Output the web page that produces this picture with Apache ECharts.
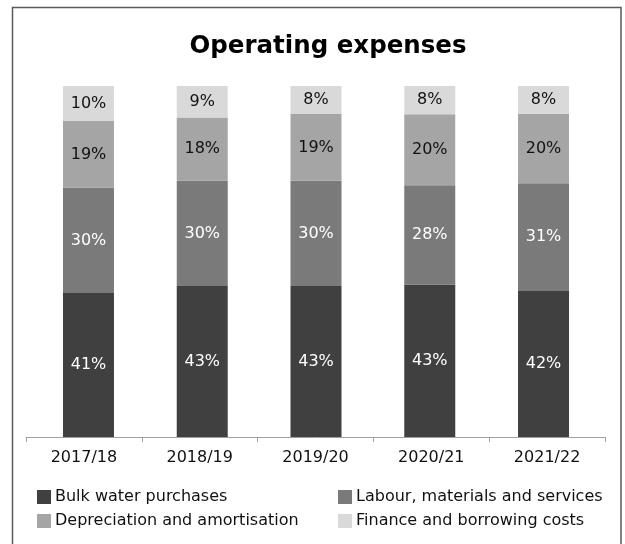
<!DOCTYPE html>
<html>
<head>
<meta charset="utf-8">
<script src="https://cdn.jsdelivr.net/npm/echarts@6/dist/echarts.min.js"></script>
<style>
  html, body { margin: 0; padding: 0; background: #fff; }
  #main { width: 625px; height: 544px; }
</style>
</head>
<body>
<div id="main"></div>
<script>
var years = ['2017/18', '2018/19', '2019/20', '2020/21', '2021/22'];
var bulkWater = [41, 43, 43, 43, 42];
var labour = [30, 30, 30, 28, 31];
var depreciation = [19, 18, 19, 20, 20];
var finance = [10, 9, 8, 8, 8];

var names = ['Bulk water purchases', 'Labour, materials and services',
  'Depreciation and amortisation', 'Finance and borrowing costs'];
var colors = ['#404040', '#7a7a7a', '#a4a5a4', '#d9d9d9'];
var labelColors = ['#fff', '#fff', '#111', '#111'];
var raw = [bulkWater, labour, depreciation, finance];
var font = 'DejaVu Sans';

// each bar fills the full height, as in the original
var totals = years.map(function (y, i) {
  return bulkWater[i] + labour[i] + depreciation[i] + finance[i];
});

var series = raw.map(function (arr, k) {
  return {
    name: names[k],
    type: 'bar',
    stack: 'total',
    xAxisIndex: 1,
    yAxisIndex: 1,
    barWidth: 51,
    itemStyle: { color: colors[k] },
    label: {
      show: true,
      color: labelColors[k],
      fontSize: 16,
      fontFamily: font,
      formatter: function (p) { return arr[p.dataIndex] + '%'; }
    },
    data: arr.map(function (v, i) { return v / totals[i] * 100; })
  };
});

var legendPos = [[37, 489], [338, 489], [37, 513], [338, 513]];
var legends = names.map(function (n, k) {
  return {
    data: [n],
    left: legendPos[k][0],
    top: legendPos[k][1],
    icon: 'rect',
    itemWidth: 14,
    itemHeight: 14,
    itemGap: 5,
    padding: 0,
    selectedMode: false,
    textStyle: { fontSize: 16, color: '#111', fontFamily: font, padding: [0, 0, 0, -1] }
  };
});

var option = {
  animation: false,
  title: {
    text: 'Operating expenses',
    left: 323,
    textAlign: 'center',
    top: 29,
    textStyle: { fontSize: 24.5, fontWeight: 'bold', color: '#000', fontFamily: font }
  },
  graphic: [{
    type: 'rect',
    shape: { x: 12.5, y: 7.5, width: 608.5, height: 560 },
    style: { fill: 'none', stroke: '#5a5a5a', lineWidth: 1.5 }
  }],
  legend: legends,
  // grid 0 carries the visible axis, grid 1 the bars (spaced a bit tighter)
  grid: [
    { left: 26, right: 20, top: 86, bottom: 107 },
    { left: 31.6, right: 24.6, top: 86, bottom: 107 }
  ],
  xAxis: [{
    type: 'category',
    gridIndex: 0,
    data: years,
    axisLine: { lineStyle: { color: '#a0a0a0' } },
    axisTick: { show: true, length: 5, lineStyle: { color: '#a0a0a0' } },
    axisLabel: { fontSize: 16, color: '#111', fontFamily: font, margin: 13 }
  }, {
    type: 'category',
    gridIndex: 1,
    data: years,
    show: false
  }],
  yAxis: [
    { type: 'value', gridIndex: 0, min: 0, max: 100, show: false },
    { type: 'value', gridIndex: 1, min: 0, max: 100, show: false }
  ],
  series: series
};

var myChart = echarts.init(document.getElementById('main'));
myChart.setOption(option);
</script>
</body>
</html>
